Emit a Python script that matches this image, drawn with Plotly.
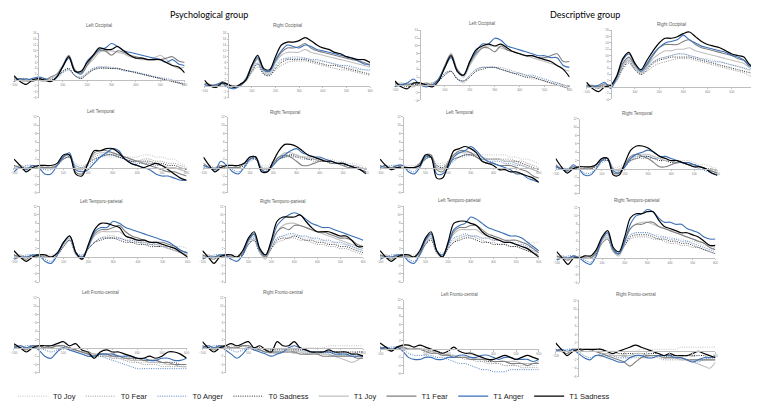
import plotly.graph_objects as go

# ---------------- data ----------------
time_ms = [-100, -75, -50, -25, 0, 25, 50, 75, 100, 125, 150, 175, 200, 225, 250,
           275, 300, 325, 350, 375, 400, 425, 450, 475, 500, 525, 550, 575, 600]

conditions = ["T0 Joy", "T0 Fear", "T0 Anger", "T0 Sadness",
              "T1 Joy", "T1 Fear", "T1 Anger", "T1 Sadness"]

group_titles = ["Psychological group", "Descriptive group"]

panel_titles = ["Left Occipital", "Right Occipital", "Left Occipital", "Right Occipital",
                "Left Temporal", "Right Temporal", "Left Temporal", "Right Temporal",
                "Left Temporo-parietal", "Right Temporo-parietal",
                "Left Temporo-parietal", "Right Temporo-parietal",
                "Left Fronto-central", "Right Fronto-central",
                "Left Fronto-central", "Right Fronto-central"]

y_ranges = [(-6, 16), (-4, 18), (-4, 14), (-4, 18),
            (-6, 12), (-6, 12), (-6, 12), (-6, 12),
            (-6, 12), (-6, 12), (-6, 12), (-6, 12),
            (-6, 12), (-6, 12), (-6, 12), (-6, 12)]

# each panel: series in the order of `conditions` (µV)
psy_left_occipital = [
    [0, 0.5, 0, -0.5, 0, 0.5, 0, 1, 2.5, 3.5, 1.5, 1, 2.5, 4, 4.5, 4.5, 4.5, 4, 3.5, 3, 2.5, 2, 1.5, 1, 0.5, 0, -0.5, -1, -1.5],
    [0.5, 0, -0.5, 0, 0.5, 0, 0.5, 1, 3, 3.8, 1.5, 0.5, 2, 3.5, 4.2, 4.5, 4, 4, 3.5, 3, 2.5, 2, 1.5, 1, 0.5, 0, -0.5, -1, -1.8],
    [0, 0.5, 0.5, 0, 0, 0, -0.5, 0.5, 2.5, 3.5, 1.5, 1, 2.5, 4, 4.5, 4.2, 4, 3.8, 3.2, 3, 2.8, 2.2, 1.8, 1.2, 0.8, 0.5, 0, -0.8, -1.2],
    [0.5, 0, -0.5, 0, 0, 0.5, 0, 1, 3, 4, 1.5, 0.5, 2, 3.5, 4, 4, 4, 4, 3.5, 3, 2.5, 2, 1.5, 1, 0.5, 0, -0.5, -1, -1.5],
    [0.5, 0, -0.5, 0.5, 0, -0.5, 0.5, 1.5, 4.5, 8, 3.5, 2, 5, 7, 9.5, 10, 10, 9.5, 9, 8, 7.5, 7, 7, 7.5, 8.5, 7, 5, 4, 4.5],
    [1, 0, 0.5, -0.5, 0.5, 0, 1, 2, 5, 8.5, 3.5, 2, 5, 8, 10, 10, 8.5, 10, 9.5, 8.5, 8, 7.5, 7, 7, 7, 7.5, 8, 6.5, 6],
    [-0.5, 0.5, 0, 0.5, 1, 0.5, -0.5, 1, 4.5, 7.5, 3, 2.5, 6.5, 8.5, 10.5, 11, 12.5, 11.5, 10, 9.5, 9, 8.5, 8, 7.5, 7, 6, 7, 5.5, 5],
    [1.5, -0.5, -1.5, 0, 0.5, 0, -0.5, 1, 4.5, 8, 3, 3, 6, 8.5, 11, 10.5, 10.5, 11.5, 10, 8.5, 7.5, 7.5, 7, 7, 7, 6, 5, 4.5, 2.5],
]

psy_right_occipital = [
    [0, 0.5, 0, 0.5, 0, 0, 0.5, 1.5, 5, 7.5, 4.5, 4, 6.5, 8.5, 9.5, 10, 10, 9.5, 9, 8.5, 8.5, 8, 7.5, 7, 6.5, 6, 5.5, 5.5, 5],
    [0.5, 0, -0.5, 0.5, 0.5, 0, 0, 1.5, 4.5, 6.5, 4, 3.5, 5.5, 7, 8, 8.5, 8.5, 8.5, 8, 7.5, 7, 6.5, 6, 5.5, 5.5, 5, 4.5, 4, 3.5],
    [0, 0, 0.5, 0, -0.5, -1, 0, 2, 5.5, 8, 4.5, 4, 7, 9, 9.5, 9.5, 9.5, 9.5, 9, 9, 8.5, 8, 7.5, 7, 7, 6.5, 6, 5.5, 5.5],
    [0.5, 0, 0, 1, 0, -0.5, 0.5, 2, 5, 7.5, 4, 3.5, 6, 8, 9, 9, 9, 9, 8.5, 8, 7.5, 7, 7, 6.5, 6, 5.5, 5, 4.5, 4],
    [0.5, 0, 0.5, 0.5, 0, -0.5, 0.5, 2, 6, 9, 5, 4.5, 8, 10.5, 11.5, 11.5, 11.5, 12.5, 11.5, 11, 10.5, 10, 9.5, 9, 8.5, 8, 7.5, 7, 6.5],
    [1, 0.5, 0, 1.5, 0.5, 0, 0, 2, 6.5, 9.5, 5.5, 5, 8.5, 11.5, 13, 13, 13.5, 14.5, 13, 12, 11.5, 11, 10.5, 10, 9.5, 9, 8.5, 8, 7],
    [0.5, 0, 0.5, 1, -0.5, -1, 0, 2.5, 7, 10, 5.5, 5, 9, 12, 14, 13.5, 13, 14, 13.5, 12.5, 12, 11.5, 11, 10.5, 10, 9.5, 8.5, 7.5, 7.5],
    [2, 0, -0.5, 1, 0.5, -0.5, 0.5, 2, 7, 10.5, 6, 5.5, 10, 14, 15, 15, 15.5, 16.5, 15.5, 14, 13, 12.5, 11.5, 11, 10, 9.5, 9, 9, 8],
]

des_left_occipital = [
    [0, 0.5, 0, 0, 0, 0.5, 0.5, 1, 2.5, 3.5, 1.5, 1, 2.5, 4, 4.5, 4.5, 4.5, 4, 3.5, 3, 2.5, 2, 1.5, 1.5, 1, 0.5, 0, -0.5, -0.5],
    [0.5, 0, 0, 0.5, 0, 0, 0.5, 1, 3, 3.5, 1.5, 0.5, 2, 3.5, 4.5, 4.5, 4.5, 4.5, 4, 3.5, 3, 2.5, 2, 1.5, 1, 0.5, 0.5, 0, -0.5],
    [0, 0, 0.5, 0, 0, 0, 0, 1, 3, 3.5, 1.5, 1, 2.5, 4, 4.5, 4.5, 4.5, 4, 3.5, 3, 3, 2.5, 2.5, 2, 1.5, 1, 0.5, 0, -0.5],
    [0, 0, -0.5, 0, 0, 0, 0, 1, 2.5, 3.5, 1.5, 1, 2, 3.5, 4, 4.5, 4.5, 4, 3.5, 3, 2.5, 2, 2, 1.5, 1, 0.5, 0, -0.5, -1],
    [0, 0.5, 0, -0.5, 0.5, 0, 0.5, 1.5, 4.5, 7.5, 3.5, 2, 5, 7.5, 9.5, 10, 10, 9.5, 9, 8.5, 8, 7.5, 7, 6.5, 6, 5.5, 5, 4, 3.5],
    [0.5, 0, 0, 0.5, 0, 0.5, 0, 1.5, 5, 8, 4, 2.5, 5.5, 8, 9.5, 9.5, 8.5, 10, 9, 8.5, 8, 7.5, 7.5, 7, 7, 7.5, 8, 6, 6],
    [-0.5, 0, 0.5, 1.5, 0, -0.5, 0, 1.5, 4.5, 7, 3.5, 2.5, 6, 8.5, 10.5, 10.5, 12, 11.5, 10, 9.5, 9, 8.5, 8, 7.5, 7.5, 7, 7, 5, 4.5],
    [1, -0.5, -1, 0.5, 0.5, 0, -0.5, 1, 4.5, 7.5, 3.5, 2.5, 6, 9, 10, 10.5, 10, 10.5, 9.5, 8.5, 8, 7.5, 7.5, 7, 6.5, 6, 5, 4, 2],
]

des_right_occipital = [
    [0, 0.5, 0, 0.5, 0.5, 2.5, 6.5, 8.5, 6, 4.5, 6, 8, 9, 9.5, 10, 10.5, 10.5, 10, 9.5, 9, 9, 8.5, 8, 7.5, 7, 6.5, 6, 5, 4.5],
    [0.5, 0, 0, 0.5, 0.5, 2, 5.5, 7.5, 5.5, 4, 5, 6.5, 7.5, 8, 8.5, 9, 9, 9, 8.5, 8, 7.5, 7, 6.5, 6, 5.5, 5, 4.5, 3.5, 3],
    [0, 0, 0.5, 0.5, 0, 2, 6.5, 8.5, 6, 4.5, 6, 8, 9, 9.5, 10, 10.5, 10.5, 10, 9.5, 9, 8.5, 8, 8, 7.5, 7, 6.5, 6, 5.5, 5],
    [0.5, 0, -0.5, 0.5, 0.5, 2.5, 6, 8, 5.5, 4, 5.5, 7.5, 8.5, 9, 9.5, 9.5, 9.5, 9.5, 9, 8.5, 8, 7.5, 7, 6.5, 6, 5.5, 5, 4.5, 4],
    [0.5, 0, 0.5, 0.5, 0.5, 2.5, 7, 9, 6.5, 4.5, 6.5, 9, 10.5, 11.5, 11.5, 12, 12, 12.5, 11.5, 11, 10.5, 10, 9.5, 9, 8.5, 8, 7.5, 6, 5],
    [0.5, 0.5, 0, 1, 0.5, 3, 7.5, 9.5, 7, 5, 7, 10, 12.5, 13.5, 13.5, 13.5, 14.5, 15, 13.5, 12.5, 12, 11.5, 11, 10.5, 10, 9, 8.5, 7, 6],
    [0, 0, 0.5, 1.5, -0.5, 3, 8.5, 10.5, 7.5, 5, 7.5, 10.5, 12.5, 14, 14.5, 15, 16.5, 15, 14, 13, 12.5, 12, 11.5, 11, 10, 9.5, 8.5, 6.5, 7],
    [1.5, -0.5, -1.5, 0, 0.5, 3.5, 9, 11, 7.5, 5.5, 8.5, 11.5, 14, 15.5, 15.5, 16, 17, 17.5, 16, 14.5, 13.5, 13, 12.5, 11.5, 10.5, 10, 9.5, 7, 6.5],
]

psy_left_temporal = [
    [0.5, 0, 0, 0.5, 0, 0.5, 0.5, 1, 2, 2.5, 1, 0.5, 1, 2, 2.5, 2.5, 2.5, 2.5, 2.5, 2.5, 2.5, 3, 3, 2.5, 2.5, 2, 2, 1, 0.5],
    [0, 0.5, 0, 0, 0.5, 0, 0, 1, 2, 2.5, 0.5, 0, 1, 2.5, 3, 3, 3, 2.5, 2, 1.5, 1.5, 2, 2, 1.5, 1.5, 1, 1, 0.5, 0],
    [0, 0, 0.5, 0.5, 0, -0.5, -0.5, 0.5, 2, 2.5, 0.5, 0, 0.5, 1.5, 2.5, 3, 3, 2.5, 2, 1.5, 1, 1, 1, 0.5, 0.5, 0, 0, -0.5, -1],
    [0.5, 0, 0, 0, 0, 0, 0, 0.5, 2, 2.5, 0, -0.5, 1, 2, 2.5, 3, 3, 2.5, 2, 1.5, 1.5, 1.5, 1.5, 1, 1, 0.5, 0.5, 0, -0.5],
    [0, 0.5, 0, 0, 0.5, 0, 0, 1, 2.5, 3, 0, -0.5, 1, 3, 3.5, 3.5, 3.5, 3, 2.5, 2, 1.5, 1.5, 1, 1, 0.5, 0, 0, -0.5, -1],
    [0.5, 0, -0.5, 0.5, 0, 0, 0, 0.5, 2.5, 3, -1, -1.5, 1, 3.5, 4, 4, 3.5, 3, 2.5, 2, 1.5, 1, 0.5, 0, -0.5, -1, -1, -1.5, -2],
    [-1, 0, -0.5, 0.5, 0, -1.5, -1.5, 0.5, 2.5, 3.5, -0.5, -1, -0.5, 1, 2.5, 3.5, 4.5, 4, 2, 1, 0.5, 0, -0.5, -1.5, -2, -2, -2.5, -3, -3],
    [2, 0.5, -1, 0, 0.5, 0.5, 0.5, 1, 3, 3, -1.5, -2, 1, 4, 4, 4.5, 4.5, 3.5, 2, 1, 0.5, 0, 0.5, 1, 0.5, -0.5, -1.5, -2.5, -3],
]

psy_right_temporal = [
    [0, 0.5, 0, 0, 0.5, 0.5, 0.5, 1, 2, 2.5, 0.5, 0.5, 1.5, 2.5, 3, 3, 3, 2.5, 2.5, 2, 2, 2, 2, 1.5, 1.5, 1, 1, 0.5, 0],
    [0.5, 0, 0, 0.5, 0, 0, 0, 1, 2, 2, 0, 0, 1, 2, 2.5, 2.5, 2.5, 2, 2, 1.5, 1.5, 1.5, 1, 1, 0.5, 0.5, 0, 0, -0.5],
    [0, 0, 0, 0.5, 0, -0.5, -1, 0, 1.5, 2, 0, -0.5, 0.5, 2, 2.5, 3, 3, 2.5, 2, 2, 2, 1.5, 1.5, 1, 0.5, 0.5, 0, -0.5, -1],
    [0.5, 0, 0, 0, 0, 0, 0, 0.5, 2, 2, 0, -0.5, 1, 2, 2.5, 3, 2.5, 2.5, 2, 2, 1.5, 1.5, 1, 1, 1, 0.5, 0, 0, -0.5],
    [0.5, 0, 0, 0.5, 0, 0, 0.5, 1, 2.5, 2.5, 0, -0.5, 1, 2.5, 3.5, 3.5, 3, 2.5, 2.5, 2, 2, 1.5, 1.5, 1, 1, 0.5, 0.5, 0, -0.5],
    [1, 0, -0.5, 0.5, 0, 0, 0, 1, 2.5, 2.5, -0.5, -1, 1, 2.5, 3, 2.5, 1.5, 0.5, 0.5, 1, 1.5, 1.5, 1, 1, 0.5, 0, 0, -0.5, -1],
    [0.5, 0, -0.5, 1.5, 0.5, -1, -1.5, 0, 2, 2.5, -0.5, -1, 0.5, 2, 3, 4, 4.5, 3.5, 3, 2.5, 2.5, 2, 1.5, 1, 1, 0.5, 0, -0.5, -1.5],
    [2.5, 0.5, -1, 0, 0.5, 0.5, 0.5, 1, 2.5, 2.5, -1, -1, 1.5, 4, 5.5, 5.5, 5, 4, 3, 2.5, 2, 1.5, 1.5, 1, 1, 0.5, 0, -0.5, -1.5],
]

des_left_temporal = [
    [0.5, 0, 0, 0.5, 0, 0.5, 0.5, 1, 2, 2.5, 1, 1, 1.5, 2, 2.5, 2.5, 3, 3, 3, 3, 3, 3, 3, 2.5, 2.5, 2, 2, 1.5, 1],
    [0, 0.5, 0, 0, 0.5, 0, 0, 1, 2, 2.5, 0.5, 0.5, 1, 2, 2.5, 3, 3, 3, 2.5, 2, 2, 2, 2, 2, 1.5, 1.5, 1, 0.5, 0],
    [0, 0, 0.5, 0.5, 0, -0.5, -1, 0.5, 2, 2.5, 0, 0, 0.5, 1.5, 2.5, 3, 3, 2.5, 2, 1.5, 1.5, 1.5, 1, 1, 0.5, 0.5, 0, -0.5, -1],
    [0.5, 0, 0, 0, 0, 0, 0, 0.5, 2, 2.5, 0.5, 0, 1, 2, 2.5, 3, 3, 2.5, 2, 2, 2, 2, 1.5, 1.5, 1.5, 1, 0.5, 0, -0.5],
    [0, 0.5, 0, 0, 0.5, 0, 0, 1, 2.5, 3, 0, -0.5, 1.5, 3, 3.5, 3.5, 3.5, 3, 2.5, 2, 2, 2, 1.5, 1.5, 1, 0.5, 0, -0.5, -1],
    [0.5, 0, 0, 0.5, 0, 0, 0, 1, 3, 3, -0.5, -1, 1, 3, 4, 4, 3.5, 2.5, 1.5, 1, 1, 0.5, 0.5, 0.5, 0, -0.5, -1, -2, -2.5],
    [0, 0.5, -0.5, 0.5, 0.5, -1, -1.5, 0, 2.5, 2.5, -1.5, -1.5, 0, 2.5, 3.5, 4, 5, 4, 2.5, 1.5, 1, 0.5, 0, -0.5, -1.5, -1.5, -2.5, -3, -3.5],
    [2, 0.5, -0.5, 0, 0, 0, 0, 0.5, 3, 2.5, -2.5, -2.5, 0.5, 4, 4.5, 5, 4.5, 3.5, 1.5, 1, 0.5, -0.5, -0.5, -1, -1, -1.5, -2, -2.5, -3.5],
]

des_right_temporal = [
    [0, 0.5, 0, 0, 0.5, 0.5, 0.5, 1, 2, 2.5, 0.5, 0.5, 1.5, 2.5, 3, 3, 3, 3, 2.5, 2.5, 2.5, 2, 2, 2, 1.5, 1, 1, 0.5, 0],
    [0.5, 0, 0, 0.5, 0, 0, 0, 1, 2, 2, 0, 0, 1, 2, 2.5, 2.5, 2.5, 2.5, 2, 2, 1.5, 1.5, 1.5, 1, 1, 0.5, 0, -0.5, -0.5],
    [0, 0, 0, 0.5, 0, -1, -1, 0, 1.5, 2, 0, -0.5, 0.5, 2, 3, 3, 3, 2.5, 2.5, 2, 2, 1.5, 1.5, 1, 0.5, 0, -0.5, -1, -1.5],
    [0.5, 0, 0, 0, 0, 0, 0, 0.5, 2, 2, 0, -0.5, 1, 2, 2.5, 3, 3, 2.5, 2, 2, 1.5, 1.5, 1.5, 1, 1, 0.5, 0, 0, -0.5],
    [0.5, 0, 0, 0.5, 0, 0, 0.5, 1, 2.5, 2.5, 0, -0.5, 1, 2.5, 3.5, 3.5, 3.5, 3, 2.5, 2, 2, 2, 1.5, 1, 1, 0.5, 0, -0.5, -1],
    [1, 0, -0.5, 0.5, 0, 0, 0, 1, 2.5, 2.5, -1, -1, 1, 3, 3.5, 3, 2.5, 1.5, 0.5, 0.5, 1, 1.5, 1.5, 1, 1, 0.5, 0, -0.5, -1],
    [0.5, 0, -0.5, 1, 0, -1.5, -1.5, 0, 2, 2.5, -0.5, -1, 0.5, 2.5, 3.5, 4, 4.5, 4, 3, 3, 2.5, 2, 1.5, 1.5, 1, 0.5, 0, -1, -1.5],
    [2.5, 0.5, -1, 0, 0.5, 0.5, 0.5, 1, 2.5, 2.5, -1.5, -1.5, 1.5, 4.5, 5.5, 5.5, 5, 4, 3, 2.5, 2, 2, 1.5, 1, 0.5, 0.5, 0, -1, -1.5],
]

psy_left_tempoparietal = [
    [0.5, 0, 0, 0.5, 0, 0.5, 0.5, 1, 2.5, 4, 1, 0.5, 2, 3.5, 4.5, 4.5, 4.5, 4.5, 4, 4, 3.5, 3.5, 3, 3, 3, 2.5, 2.5, 2.5, 2],
    [0, 0.5, 0, 0, 0.5, 0, 0, 1, 3, 4, 1, 0, 2, 3.5, 4.5, 5, 5, 4.5, 4, 3.5, 3.5, 3, 3, 2.5, 2.5, 2, 1.5, 1, 0.5],
    [0, 0, 0.5, 0.5, 0, -0.5, -1, 0.5, 2.5, 4, 1, 0.5, 2, 3.5, 4.5, 4.5, 4.5, 4.5, 4, 4, 3.5, 3.5, 3, 3, 2.5, 2.5, 2, 1.5, 1],
    [0.5, 0, 0, 0, 0, 0, 0, 0.5, 2.5, 4, 0.5, 0, 2, 3.5, 4, 4.5, 4.5, 4, 3.5, 3.5, 3, 3, 2.5, 2.5, 2.5, 2, 1.5, 1, 0.5],
    [0, 0.5, 0, 0, 0.5, 0, 0, 1, 3, 4.5, 0.5, -0.5, 2.5, 5, 6, 6, 6, 6, 5, 4.5, 4, 3.5, 3.5, 3, 2.5, 2, 1.5, 1, 0.5],
    [0.5, 0, -0.5, 0.5, 0, 0, 0, 1, 3.5, 5, 1, -0.5, 2.5, 5.5, 6.5, 6.5, 7, 7.5, 6, 5, 4.5, 4, 3.5, 3.5, 3.5, 3, 2.5, 1.5, 1],
    [-0.5, 0, 0, 0.5, 0.5, -1, -1.5, 0.5, 3.5, 5, 1, 0, 2.5, 6, 7, 7, 8.5, 8, 7, 6.5, 6, 5.5, 5, 4.5, 4, 3.5, 2.5, 1.5, 1],
    [1.5, 0, -1, 0, 0.5, 0.5, 0, 1, 3.5, 5, 1, -0.5, 3, 6.5, 8, 8, 7.5, 7, 5, 4.5, 4, 4, 3.5, 3.5, 3, 2.5, 2, 1, 0],
]

psy_right_tempoparietal = [
    [0.5, 0, 0, 0.5, 0, 0.5, 0.5, 1, 3, 4.5, 1.5, 0.5, 2.5, 4.5, 5, 5, 5, 5, 4.5, 4.5, 4, 4, 3.5, 3.5, 3, 3, 2.5, 2, 1.5],
    [0, 0.5, 0, 0, 0.5, 0, 0, 1, 3, 4, 1, 0, 2, 3.5, 4, 4.5, 4.5, 4, 4, 3.5, 3, 3, 2.5, 2.5, 2, 2, 1.5, 1, 0.5],
    [0, 0, 0.5, 0.5, 0, -0.5, -1, 0.5, 3, 4.5, 1, 0.5, 2.5, 4.5, 5, 5.5, 5.5, 5, 5, 4.5, 4.5, 4, 4, 3.5, 3.5, 3, 2.5, 2, 1.5],
    [0.5, 0, 0, 0, 0, 0, 0, 0.5, 3, 4, 1, 0, 2, 4, 4.5, 4.5, 5, 4.5, 4, 4, 3.5, 3.5, 3, 3, 2.5, 2.5, 2, 1.5, 1],
    [0, 0.5, 0, 0, 0.5, 0, 0, 1, 3.5, 5, 1, -0.5, 3, 6, 7.5, 8, 8, 7.5, 7, 6.5, 6, 5.5, 5, 4.5, 4, 3.5, 3, 2.5, 2],
    [0.5, 0, -0.5, 0.5, 0, 0, 0, 1, 4, 5.5, 1.5, 0, 3, 6, 7, 6.5, 7.5, 7.5, 7, 6.5, 6, 6, 5.5, 5, 4.5, 4.5, 4, 3, 2.5],
    [-0.5, 0, 0, 0.5, 0.5, -0.5, -1, 0.5, 4, 5.5, 1.5, 0.5, 3.5, 7.5, 9, 10, 10.5, 10, 9, 8, 7.5, 7, 7, 6.5, 6, 5.5, 5, 4.5, 4],
    [1.5, 0, -1.5, 0, 0.5, 0.5, 0, 1.5, 4.5, 6, 2, 0.5, 4, 8.5, 9.5, 9.5, 9.5, 10, 8.5, 7, 6, 6, 6, 5.5, 5, 5, 4, 2.5, 2.5],
]

des_left_tempoparietal = [
    [0.5, 0, 0, 0.5, 0, 0.5, 0.5, 1, 3, 4.5, 1.5, 1, 2.5, 4, 4.5, 5, 5, 5, 4.5, 4.5, 4, 4, 4, 3.5, 3.5, 3.5, 3.5, 3.5, 3.5],
    [0, 0.5, 0, 0, 0.5, 0, 0, 1, 3, 4.5, 1, 0, 2, 3.5, 4.5, 5, 5, 4.5, 4, 3.5, 3.5, 3, 3, 2.5, 2.5, 2, 1.5, 1, 0.5],
    [0, 0, 0.5, 0.5, 0, -0.5, -1, 0.5, 3, 4.5, 1, 0.5, 2.5, 4.5, 5, 5.5, 5, 5, 4.5, 4.5, 4, 4, 3.5, 3.5, 3, 3, 2.5, 2, 1.5],
    [0.5, 0, 0, 0, 0, 0, 0, 0.5, 3, 4, 1, 0, 2, 3.5, 4, 4.5, 4.5, 4, 3.5, 3.5, 3, 3, 3, 2.5, 2.5, 2, 1.5, 1, 0.5],
    [0, 0.5, 0, 0, 0.5, 0, 0, 1, 3.5, 5, 1, 0, 3, 5.5, 6.5, 6.5, 6.5, 6.5, 5.5, 5, 4.5, 4, 3.5, 3.5, 3, 2.5, 2, 1.5, 1],
    [0.5, 0, -0.5, 0.5, 0, 0, 0, 1, 4, 5.5, 1.5, 0, 3, 6, 7, 7, 7.5, 7.5, 6.5, 5.5, 5, 4.5, 4, 4, 4, 3.5, 3, 2, 1],
    [-0.5, 0, 0, 0.5, 0.5, -1, -1.5, 0.5, 4, 5.5, 1.5, 0.5, 3, 6.5, 7.5, 8, 9.5, 9, 8, 7, 6.5, 6, 5.5, 5, 5, 4.5, 3.5, 2.5, 1.5],
    [1.5, 0, -1, 0, 0.5, 0.5, 0, 1.5, 4.5, 6, 1.5, 0, 3.5, 8, 8.5, 8.5, 8, 7.5, 6, 5, 4.5, 4, 3.5, 3.5, 3, 2.5, 2, 1, 0],
]

des_right_tempoparietal = [
    [0.5, 0, 0, 0.5, 0, 0.5, 0.5, 1.5, 3.5, 5, 2, 1.5, 3.5, 5.5, 6, 6, 6, 5.5, 5.5, 5, 5, 4.5, 4.5, 4, 4, 3.5, 3, 2.5, 2],
    [0, 0.5, 0, 0, 0.5, 0, 0, 1, 3.5, 4.5, 1.5, 1, 3, 4.5, 5, 5, 5, 4.5, 4.5, 4, 3.5, 3.5, 3, 3, 2.5, 2.5, 2, 1.5, 1],
    [0, 0, 0.5, 0.5, 0, -0.5, -1, 1, 4, 5, 1.5, 1, 3.5, 5.5, 6, 6, 6, 5.5, 5, 5, 4.5, 4.5, 4, 4, 3.5, 3, 2.5, 2, 1.5],
    [0.5, 0, 0, 0, 0, 0, 0, 1, 3.5, 4.5, 1.5, 1, 3, 5, 5.5, 5.5, 5.5, 5, 4.5, 4.5, 4, 4, 3.5, 3.5, 3, 2.5, 2, 1.5, 1],
    [0, 0.5, 0, 0, 0.5, 0, 0, 1.5, 4, 5.5, 1.5, 0.5, 4, 7, 8, 8.5, 8.5, 8, 7.5, 7, 6.5, 6, 5.5, 5, 4.5, 4, 3.5, 3, 2.5],
    [0.5, 0, -0.5, 0.5, 0, 0, 0, 1.5, 4.5, 6, 2, 1, 4, 7, 8, 8, 8.5, 8.5, 7.5, 7, 6.5, 6, 5.5, 5, 4.5, 4, 3.5, 2.5, 2],
    [-0.5, 0, 0, 0.5, 0, -1, -1.5, 0.5, 4.5, 6, 2, 1, 4, 8, 10, 10.5, 11.5, 11, 9.5, 8.5, 8.5, 8, 8, 7, 6.5, 6, 5, 4.5, 4.5],
    [1.5, 0, -1.5, 0, 0, 0.5, 0.5, 2, 5, 6.5, 2.5, 1.5, 5, 9.5, 10.5, 10.5, 11, 11, 9, 7.5, 7, 6.5, 6, 6, 5.5, 5, 4, 3, 3],
]

psy_left_frontocentral = [
    [0.5, 0, 0, 0.5, 0, 0.5, 0.5, 0.5, 0, -0.5, -1, -1, -1.5, -2, -2, -2, -2.5, -2.5, -3, -3, -3.5, -3.5, -3.5, -3.5, -4, -4, -4, -4.5, -4.5],
    [0, 0.5, 0, 0, 0.5, 0, 0, 0.5, 0, -0.5, -0.5, -1, -1.5, -1.5, -2, -2, -2.5, -2.5, -3, -3.5, -3.5, -4, -4, -4, -4.5, -4.5, -4.5, -4.5, -4.5],
    [0, 0, 0.5, 0.5, 0, -0.5, -1, -0.5, 0, -0.5, -1, -1.5, -2, -2, -2, -2.5, -3, -3.5, -4, -4.5, -5, -5, -5, -5, -5, -5, -5, -5, -5],
    [0.5, 0, 0, 0, 0, 0, 0, 0.5, 0.5, 0, -0.5, -1, -1, -1.5, -1.5, -2, -2, -2, -2.5, -2.5, -3, -3, -3, -3, -3.5, -3.5, -3.5, -4, -4],
    [0, 0.5, 0, 0, 0.5, 0, 0.5, 0.5, 0, -0.5, -0.5, -1, -1.5, -1.5, -1.5, -2, -2, -2.5, -2.5, -3, -3, -3, -3.5, -3.5, -3.5, -4, -4, -4.5, -4.5],
    [0.5, 0, -0.5, 0.5, 0.5, 0, 0, 0.5, 0.5, 0, -0.5, -1, -1.5, -2, -1.5, -1.5, -2, -2, -2.5, -2.5, -2.5, -3, -3, -3, -3.5, -3.5, -4, -4, -4],
    [0, 0.5, 0, 0.5, -0.5, -2, -2.5, -1, 0, -0.5, -1, -1.5, -2, -2, -1.5, -1.5, -1.5, -2, -2, -2, -2.5, -2.5, -3, -3, -2.5, -2.5, -3, -3, -2.5],
    [1, 0, -1, 0, 0.5, 0.5, 0.5, 1, 1.5, 0.5, 1, -0.5, -1, -2.5, -1, -0.5, -1, -1, -1.5, -2, -2.5, -2.5, -2, -2.5, -2, -1, -1, -1.5, -2.5],
]

psy_right_frontocentral = [
    [0.5, 0, 0, 0.5, 0, 0.5, 0.5, 0.5, 0, 0, -0.5, -0.5, -0.5, -0.5, -0.5, 0, 0, 0, 0, 0, 0, 0, 0.5, 0.5, 0.5, 0.5, 0.5, 0.5, 0.5],
    [0, 0.5, 0, 0, 0.5, 0, 0, 0.5, 0, -0.5, -0.5, -1, -1, -1, -1, -1, -1, -1, -1.5, -1.5, -1.5, -1.5, -1.5, -2, -2, -2, -2, -2, -2],
    [0, 0, 0.5, 0.5, 0, -0.5, -1, -0.5, 0, -0.5, -0.5, -1, -1, -1, -1, -0.5, -0.5, -0.5, -1, -1, -1, -1, -1, -1, -1.5, -1.5, -1.5, -1, -1],
    [0.5, 0, 0, 0, 0, 0, 0, 0.5, 0.5, 0, 0, -0.5, -0.5, -0.5, -0.5, -0.5, -0.5, -0.5, -0.5, -1, -1, -1, -1, -1, -1, -1, -1, -1, -1],
    [0, 0.5, 0, 0, 0.5, 0, 0.5, 0.5, 0, -0.5, -0.5, -1, -1, -1.5, -1, -0.5, -0.5, -1, -1, -1, -1, -1.5, -1.5, -2, -2.5, -3, -3.5, -3, -2],
    [0.5, 0, -0.5, 0.5, 0.5, 0, 0, 0.5, 0.5, 0, -0.5, -1, -1, -1, -1, -1, -1, -1.5, -1.5, -1.5, -1.5, -2, -2, -2, -2, -2, -2, -2.5, -2.5],
    [0, 0.5, 0, 0.5, -0.5, -1.5, -2.5, -1.5, 0, -0.5, -1, -1.5, -2, -1.5, -1, 0, 0.5, 0, -0.5, -1, -1, -1, -1, -1.5, -1.5, -1.5, -2, -2, -2],
    [1.5, 0, -1, 0, 0.5, 1, 0.5, 1, 1.5, 0, 0.5, -0.5, -1, 1.5, 0.5, 0.5, 1.5, 0, -0.5, -1, -1, -1, -0.5, -1, -1, -1, -1.5, -1.5, -2],
]

des_left_frontocentral = [
    [0.5, 0, 0, 0.5, 0, 0.5, 0.5, 0, -0.5, -1, -1, -1.5, -1.5, -2, -2, -2, -2.5, -2.5, -3, -3, -3.5, -3.5, -4, -4, -4, -4, -4, -4, -4],
    [0, 0.5, 0, 0, 0.5, 0, 0, 0, -0.5, -0.5, -1, -1.5, -1.5, -2, -2, -2.5, -2.5, -3, -3, -3.5, -3.5, -3.5, -4, -4, -4, -4.5, -4.5, -4.5, -4.5],
    [0, 0, 0.5, 0.5, 0, -1, -1.5, -1.5, -1.5, -1.5, -2, -2, -2.5, -3, -3.5, -3.5, -4, -4.5, -5, -5, -5.5, -5.5, -5.5, -5, -5, -5, -5, -5, -5],
    [0.5, 0, 0, 0, 0, 0, 0, 0, 0, -0.5, -0.5, -1, -1.5, -1.5, -2, -2, -2, -2.5, -2.5, -3, -3, -3, -3, -3.5, -3.5, -3.5, -3.5, -3.5, -3.5],
    [0, 0.5, 0, 0, 0.5, 0, 0, 0, -0.5, -0.5, -1, -1, -1.5, -1.5, -2, -2, -2, -2.5, -2.5, -2.5, -3, -3, -3, -3, -3, -3.5, -3.5, -3.5, -3],
    [0.5, 0, -0.5, 0.5, 0.5, 0, 0, 0, -0.5, -1, -1, -1.5, -1.5, -2, -2, -2, -2.5, -2.5, -2.5, -2.5, -3, -3, -3, -3.5, -3.5, -3.5, -4, -3.5, -3.5],
    [0, 0.5, 0, 0.5, -0.5, -2, -2.5, -2.5, -2, -2, -2.5, -2.5, -2, -2, -1.5, -1.5, -2, -2, -1.5, -1.5, -2, -2.5, -2, -2, -2.5, -2.5, -2.5, -3, -2.5],
    [1.5, 0.5, -0.5, 0.5, 1, 1, 0.5, 1, 0.5, 0, -0.5, -1, -0.5, 0.5, -0.5, -1, -1, -1.5, -2, -2.5, -2.5, -2, -1.5, -2, -2.5, -2, -1.5, -2, -2.5],
]

des_right_frontocentral = [
    [0.5, 0, 0, 0.5, 0, 0.5, 0.5, 0.5, 0, 0, 0, 0, 0, 0, 0, 0.5, 0.5, 0.5, 0.5, 0.5, 0.5, 0.5, 1, 1, 1, 1, 1, 1, 1],
    [0, 0.5, 0, 0, 0.5, 0, 0, 0, -0.5, -0.5, -1, -1, -1, -1.5, -1.5, -1.5, -1.5, -1.5, -1.5, -2, -2, -2, -2, -2, -2, -2, -2, -2, -2],
    [0, 0, 0.5, 0.5, 0, -1, -1.5, -1, -0.5, -1, -1, -1.5, -1.5, -1.5, -1, -1, -1, -1, -1, -1, -1.5, -1.5, -1.5, -2, -2.5, -2.5, -2, -1.5, -1.5],
    [0.5, 0, 0, 0, 0, 0, 0, 0.5, 0.5, 0, 0, -0.5, -0.5, -0.5, -0.5, -0.5, -0.5, -0.5, -0.5, -1, -1, -1, -1, -1, -1, -1, -1, -1.5, -1.5],
    [0, 0.5, 0, 0, 0.5, 0, 0, 0, -0.5, -0.5, -1, -1, -1, -1, -0.5, -0.5, -1, -1, -1, -1.5, -1.5, -1.5, -2, -2, -2.5, -3, -3.5, -4, -2.5],
    [0.5, 0, -0.5, 0.5, 0.5, 0, 0, 0, -0.5, -1, -1.5, -2, -2.5, -3.5, -2.5, -1.5, -1, -1, -1, -1.5, -1.5, -1.5, -1.5, -2, -2, -2, -2, -2, -2],
    [0, 0.5, 0, 0.5, -0.5, -1.5, -2, -1, -1, -1.5, -2, -2.5, -2.5, -1.5, -1, -1, -1.5, -1.5, -1, -1, -1, -1.5, -1.5, -2, -2.5, -2, -1.5, -1.5, -1],
    [2, 0.5, -1, 0, 0.5, 0.5, 0.5, 0.5, 0.5, 0, -0.5, 0, 0.5, 1, 1.5, 1, 0.5, 0, -0.5, -1, -0.5, -1, -1, -1, -0.5, 0, -0.5, -1, -1.5],
]

panels = [psy_left_occipital, psy_right_occipital, des_left_occipital, des_right_occipital,
          psy_left_temporal, psy_right_temporal, des_left_temporal, des_right_temporal,
          psy_left_tempoparietal, psy_right_tempoparietal, des_left_tempoparietal, des_right_tempoparietal,
          psy_left_frontocentral, psy_right_frontocentral, des_left_frontocentral, des_right_frontocentral]

for p in panels:
    assert len(p) == 8
    for s in p:
        assert len(s) == len(time_ms), (len(s))

# ---------------- layout ----------------
W, H = 759, 403
# pixel boxes of each panel's plotting area: (left, right, top, bottom, title_y)
boxes = [(3, 175, 24, 90, 16), (195, 362, 24, 90, 16), (387, 563, 21, 93, 14), (580, 751, 21, 92, 15),
         (3, 177, 110, 188, 104), (194, 358, 110, 188, 105), (372, 532, 110, 188, 105), (549, 712, 112, 189, 106),
         (3, 178, 202, 280, 197), (193, 355, 202, 280, 197), (372, 532, 202, 280, 196), (550, 710, 203, 281, 196),
         (3, 177, 296, 373, 290), (193, 355, 296, 373, 290), (372, 532, 298, 374, 292), (549, 710, 299, 377, 292)]

DOT = "1px,1.3px"
styles = [
    dict(color="#bdbdbd", width=0.9, dash=DOT),
    dict(color="#8c8c8c", width=0.9, dash=DOT),
    dict(color="#3f74c0", width=0.9, dash=DOT),
    dict(color="#1a1a1a", width=0.9, dash=DOT),
    dict(color="#c0c0c0", width=1.1),
    dict(color="#7f7f7f", width=1.1),
    dict(color="#3a6fb7", width=1.1),
    dict(color="#000000", width=1.2),
]

fig = go.Figure()
annotations = []
xmin, xmax = time_ms[0], time_ms[-1]
for i, (data, title, (ymin, ymax), (l, r, t, b, ty)) in enumerate(zip(panels, panel_titles, y_ranges, boxes)):
    n = "" if i == 0 else str(i + 1)
    for j, series in enumerate(data):
        fig.add_trace(go.Scatter(
            x=time_ms, y=series, xaxis="x" + n, yaxis="y" + n, mode="lines",
            name=conditions[j], legendgroup=conditions[j], showlegend=(i == 0),
            line=dict(shape="spline", smoothing=0.9, **styles[j]), hoverinfo="skip"))
    xdom = [l / W, r / W]
    ydom = [1 - b / H, 1 - t / H]
    # position of the axis lines through the zero of the other axis
    yaxis_pos = xdom[0] + (0 - xmin) / (xmax - xmin) * (xdom[1] - xdom[0])
    xaxis_pos = ydom[0] + (0 - ymin) / (ymax - ymin) * (ydom[1] - ydom[0])
    fig.layout["xaxis" + n] = dict(
        domain=xdom, range=[xmin, xmax], anchor="free", position=xaxis_pos,
        tickvals=[-100, 100, 200, 300, 400, 500, 600], showgrid=False, zeroline=False,
        showline=True, linecolor="#bfbfbf", linewidth=0.8, ticks="outside", ticklen=1.5,
        tickcolor="#bfbfbf", tickwidth=0.6, tickfont=dict(size=3, color="#7f7f7f"))
    fig.layout["yaxis" + n] = dict(
        domain=ydom, range=[ymin, ymax], anchor="free", position=yaxis_pos,
        tickvals=list(range(ymin, ymax + 1, 2)), showgrid=False, zeroline=False,
        showline=True, linecolor="#bfbfbf", linewidth=0.8, ticks="outside", ticklen=1.5,
        tickcolor="#bfbfbf", tickwidth=0.6, tickfont=dict(size=3, color="#7f7f7f"))
    annotations.append(dict(text=title, x=(xdom[0] + xdom[1]) / 2, y=1 - ty / H,
                            xref="paper", yref="paper", showarrow=False,
                            font=dict(size=4.5, color="#595959"), xanchor="center", yanchor="middle"))

annotations.append(dict(text=group_titles[0], x=200 / W, y=1 - 5 / H, xref="paper", yref="paper",
                        showarrow=False, font=dict(size=9, color="#000000", family="Lato"),
                        xanchor="center", yanchor="middle"))
annotations.append(dict(text=group_titles[1], x=579 / W, y=1 - 5 / H, xref="paper", yref="paper",
                        showarrow=False, font=dict(size=9, color="#000000", family="Lato"),
                        xanchor="center", yanchor="middle"))

fig.update_layout(
    width=W, height=H, margin=dict(l=0, r=0, t=0, b=0),
    paper_bgcolor="white", plot_bgcolor="white",
    font=dict(family="Liberation Sans", color="#333333"),
    annotations=annotations,
    showlegend=True,
    legend=dict(orientation="h", x=2 / W, y=1 - 397 / H, xanchor="left", yanchor="middle",
                font=dict(size=7.5, color="#222222"), bgcolor="rgba(0,0,0,0)",
                itemwidth=30, tracegroupgap=0),
)

fig.write_html("out.html")
